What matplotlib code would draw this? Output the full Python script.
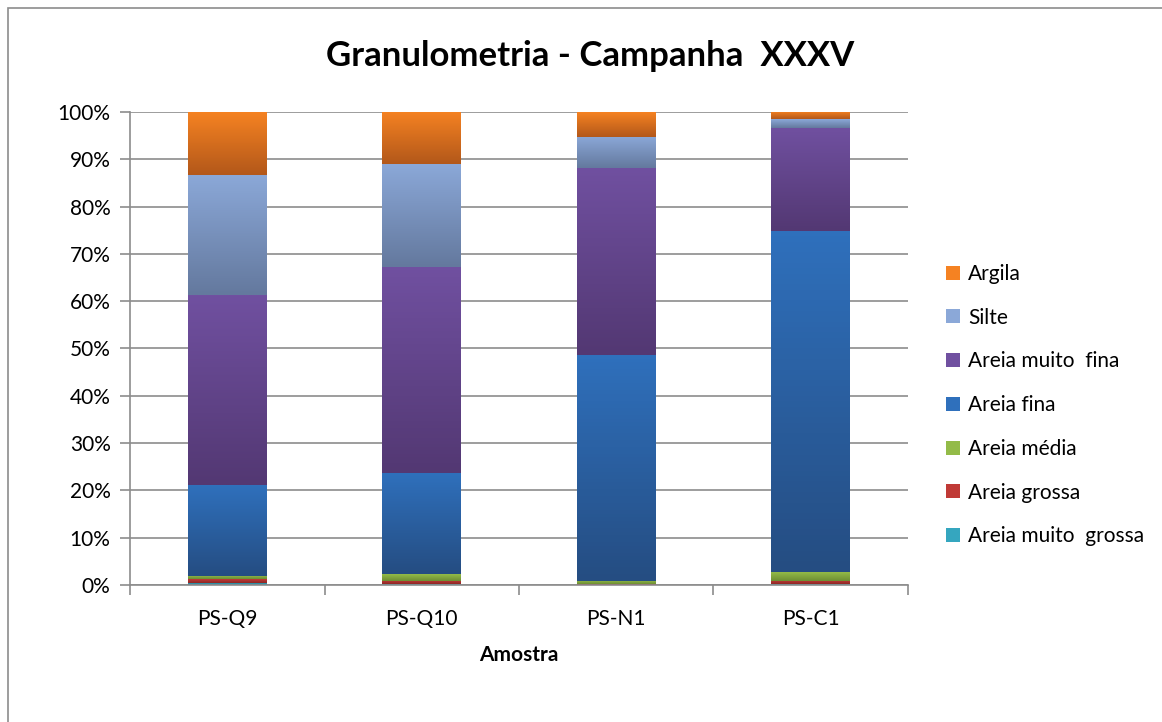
import matplotlib.pyplot as plt
import numpy as np
from matplotlib.colors import LinearSegmentedColormap
from matplotlib.patches import Rectangle

plt.rcParams['font.family'] = ['Lato', 'DejaVu Sans']

amostras = ['PS-Q9', 'PS-Q10', 'PS-N1', 'PS-C1']

# fracções granulométricas (%), de baixo para cima
areia_muito_grossa = [0.5, 0.1, 0.0, 0.1]
areia_grossa = [0.7, 0.8, 0.1, 0.8]
areia_media = [0.8, 1.4, 0.8, 1.9]
areia_fina = [19.2, 21.4, 47.7, 72.0]
areia_muito_fina = [40.1, 43.5, 39.6, 21.9]
silte = [25.4, 21.8, 6.6, 1.8]
argila = [13.3, 11.0, 5.2, 1.5]

series = [
    ('Areia muito  grossa', areia_muito_grossa, ('#35a6bf', '#25798c')),
    ('Areia grossa', areia_grossa, ('#c03a36', '#8e2826')),
    ('Areia média', areia_media, ('#93bb48', '#6e8e33')),
    ('Areia fina', areia_fina, ('#2f70bc', '#254d82')),
    ('Areia muito  fina', areia_muito_fina, ('#7050a0', '#533873')),
    ('Silte', silte, ('#8ba8d8', '#64799e')),
    ('Argila', argila, ('#f58222', '#b3581a')),
]

fig = plt.figure(figsize=(11.62, 7.22), dpi=100)
fig.patches.append(Rectangle((0.007, -0.01), 1.1, 0.999, transform=fig.transFigure,
                             fill=False, edgecolor='#8c8c8c', linewidth=1.2))
ax = fig.add_axes([0.1119, 0.1898, 0.6695, 0.6551])

x = np.arange(len(amostras))
width = 0.405
bottom = np.zeros(len(amostras))
handles = []
grad = np.linspace(1, 0, 64).reshape(-1, 1)
for nome, vals, (c_top, c_bot) in series:
    vals = np.array(vals) / 100.0
    cmap = LinearSegmentedColormap.from_list(nome, [c_bot, c_top])
    bars = ax.bar(x, vals, width, bottom=bottom, color=c_top, linewidth=0, zorder=2)
    # degradê vertical dentro de cada segmento
    for b in bars:
        if b.get_height() <= 0:
            continue
        img = ax.imshow(grad, cmap=cmap, aspect='auto', zorder=2.5,
                        extent=[b.get_x(), b.get_x() + b.get_width(),
                                b.get_y(), b.get_y() + b.get_height()],
                        vmin=0, vmax=1)
        img.set_clip_path(b)
    handles.append(bars)
    bottom += vals

ax.set_xlim(-0.5, len(amostras) - 0.5)
ax.set_ylim(0, 1)
ax.set_yticks(np.arange(0, 1.01, 0.1))
ax.set_yticklabels(['%d%%' % v for v in range(0, 101, 10)], fontsize=15)
ax.yaxis.grid(True, color='#8c8c8c', linewidth=1.2, zorder=0)
ax.set_axisbelow(True)

ax.set_xticks(x)
ax.set_xticklabels(amostras, fontsize=15)
ax.tick_params(axis='x', length=0, pad=17)
ax.set_xticks(np.arange(-0.5, len(amostras)), minor=True)
ax.tick_params(axis='x', which='minor', length=7, color='#8c8c8c', width=1.2)
ax.tick_params(axis='y', length=7, color='#8c8c8c', width=1.2, pad=7)

for s in ['top', 'right']:
    ax.spines[s].set_visible(False)
for s in ['left', 'bottom']:
    ax.spines[s].set_color('#8c8c8c')
    ax.spines[s].set_linewidth(1.2)

ax.set_xlabel('Amostra', fontsize=15, fontweight='bold', labelpad=12)
fig.text(0.508, 0.922, 'Granulometria - Campanha  XXXV', ha='center', va='center',
         fontsize=25, fontweight='bold')

leg = ax.legend(handles[::-1], [s[0] for s in series][::-1], loc='center left',
                bbox_to_anchor=(1.025, 0.38), frameon=False, fontsize=15,
                handlelength=0.65, handleheight=0.65, labelspacing=1.14, handletextpad=0.4)

fig.savefig('out.png', dpi=100)
